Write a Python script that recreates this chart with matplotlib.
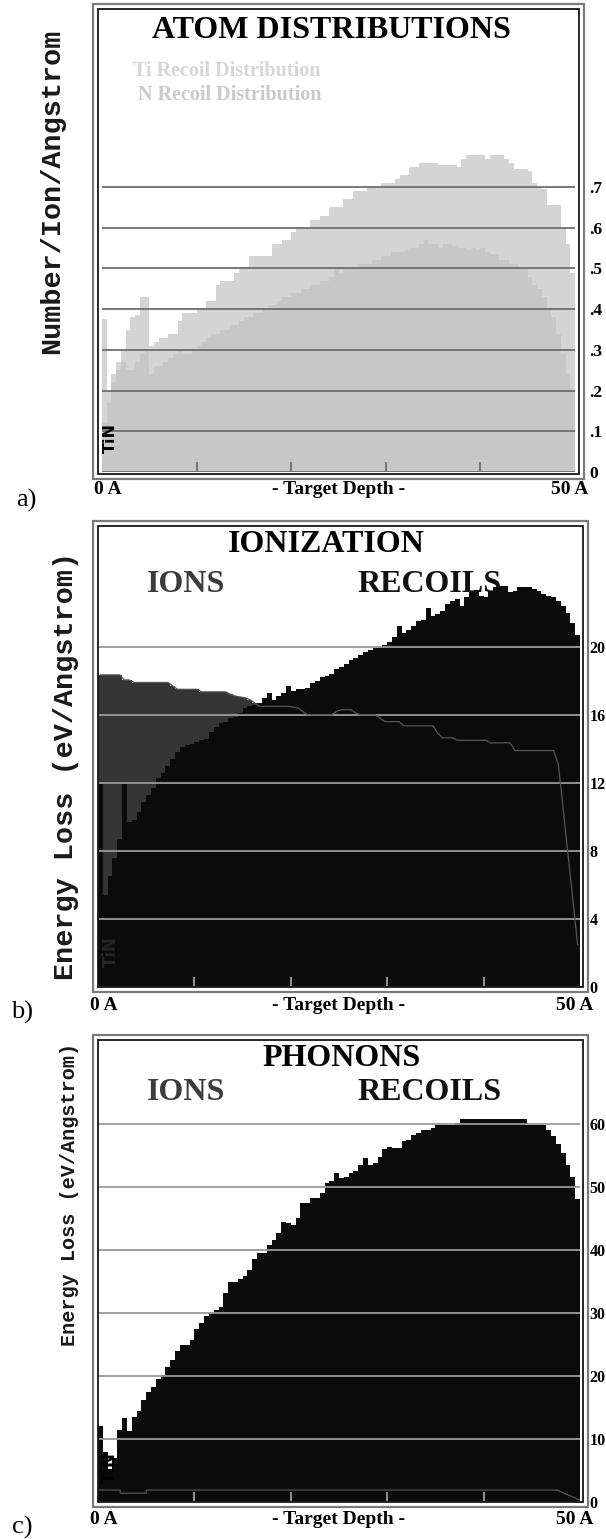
import numpy as np
import matplotlib
matplotlib.use("Agg")
import matplotlib.pyplot as plt
from matplotlib.patches import Rectangle

W, H = 606, 1539

# 100 depth bins of 0.5 A over the 50 A target
depth_edges = np.linspace(0, 50, 101)
depth_centers = (depth_edges[:-1] + depth_edges[1:]) / 2

# a) atom distributions (atoms/ion/A)
ti_recoil = [
    0.375, 0.20, 0.24, 0.27, 0.30, 0.35, 0.38, 0.385, 0.43, 0.43,
    0.31, 0.32, 0.33, 0.33, 0.34, 0.34, 0.37, 0.39, 0.39, 0.39,
    0.40, 0.40, 0.42, 0.42, 0.46, 0.47, 0.47, 0.47, 0.49, 0.50,
    0.50, 0.53, 0.53, 0.53, 0.53, 0.53, 0.56, 0.56, 0.57, 0.57,
    0.59, 0.60, 0.60, 0.60, 0.62, 0.62, 0.63, 0.63, 0.65, 0.65,
    0.65, 0.67, 0.67, 0.69, 0.69, 0.69, 0.70, 0.70, 0.70, 0.71,
    0.71, 0.71, 0.72, 0.73, 0.73, 0.75, 0.75, 0.76, 0.76, 0.76,
    0.76, 0.755, 0.755, 0.755, 0.755, 0.75, 0.77, 0.78, 0.78, 0.78,
    0.78, 0.77, 0.78, 0.78, 0.78, 0.77, 0.76, 0.745, 0.745, 0.745,
    0.74, 0.71, 0.70, 0.695, 0.655, 0.655, 0.655, 0.60, 0.56, 0.49,
]
n_recoil = [
    0.12, 0.17, 0.22, 0.25, 0.27, 0.25, 0.25, 0.27, 0.29, 0.30,
    0.24, 0.26, 0.26, 0.27, 0.28, 0.29, 0.30, 0.29, 0.29, 0.30,
    0.31, 0.32, 0.33, 0.34, 0.34, 0.35, 0.35, 0.36, 0.36, 0.37,
    0.38, 0.38, 0.39, 0.39, 0.40, 0.41, 0.41, 0.42, 0.43, 0.43,
    0.44, 0.44, 0.45, 0.45, 0.46, 0.46, 0.47, 0.47, 0.48, 0.50,
    0.49, 0.50, 0.50, 0.50, 0.51, 0.51, 0.51, 0.52, 0.52, 0.53,
    0.53, 0.54, 0.54, 0.54, 0.545, 0.55, 0.55, 0.56, 0.57, 0.56,
    0.56, 0.55, 0.56, 0.56, 0.555, 0.55, 0.55, 0.545, 0.55, 0.545,
    0.55, 0.54, 0.535, 0.535, 0.52, 0.52, 0.51, 0.51, 0.50, 0.50,
    0.48, 0.46, 0.45, 0.43, 0.40, 0.38, 0.34, 0.29, 0.24, 0.20,
]

# b) ionization energy loss (eV/A)
ion_ionization = [
    18.35, 18.35, 18.35, 18.35, 18.35, 18.05, 18.05, 17.9, 17.9, 17.9,
    17.9, 17.9, 17.9, 17.9, 17.9, 17.7, 17.5, 17.5, 17.5, 17.5,
    17.5, 17.35, 17.35, 17.35, 17.35, 17.35, 17.35, 17.2, 17.1, 17.05,
    17.0, 16.9, 16.7, 16.5, 16.5, 16.5, 16.5, 16.5, 16.5, 16.5,
    16.45, 16.4, 16.2, 16.0, 16.0, 16.0, 16.0, 16.0, 16.0, 16.2,
    16.3, 16.3, 16.3, 16.1, 16.0, 16.0, 16.0, 16.0, 15.8, 15.6,
    15.6, 15.6, 15.6, 15.35, 15.35, 15.35, 15.35, 15.35, 15.35, 15.35,
    14.9, 14.65, 14.65, 14.65, 14.5, 14.5, 14.5, 14.5, 14.5, 14.5,
    14.5, 14.35, 14.35, 14.35, 14.35, 14.35, 13.9, 13.9, 13.9, 13.9,
    13.9, 13.9, 13.9, 13.9, 13.9, 13.1, 10.5, 7.8, 5.2, 2.5,
]
recoil_ionization = [
    12.0, 5.4, 6.5, 7.6, 8.7, 12.0, 9.7, 9.8, 10.3, 10.9,
    11.3, 11.7, 12.3, 12.6, 13.0, 13.4, 13.8, 14.1, 14.2, 14.3,
    14.4, 14.5, 14.6, 15.0, 15.3, 15.5, 15.6, 15.8, 15.9, 16.1,
    16.4, 16.5, 16.6, 16.7, 17.0, 17.3, 16.9, 17.1, 17.3, 17.7,
    17.4, 17.5, 17.5, 17.6, 17.9, 18.0, 18.2, 18.3, 18.4, 18.7,
    18.8, 19.0, 19.2, 19.35, 19.5, 19.7, 19.8, 19.9, 20.0, 20.1,
    20.3, 20.6, 21.2, 20.8, 21.0, 21.2, 21.5, 21.6, 22.3, 21.8,
    21.9, 22.1, 22.5, 22.7, 22.8, 22.4, 22.9, 23.2, 23.35, 23.0,
    22.9, 23.3, 23.5, 23.6, 23.6, 23.2, 23.3, 23.5, 23.5, 23.5,
    23.4, 23.3, 23.1, 23.0, 22.9, 22.7, 22.4, 22.0, 21.4, 20.7,
]

# c) phonon energy loss (eV/A)
recoil_phonons = [
    12.0, 8.0, 5.2, 7.0, 11.5, 13.3, 11.2, 13.5, 14.5, 16.2,
    17.5, 18.3, 19.5, 20.1, 21.4, 22.5, 24.0, 24.9, 24.9, 25.7,
    27.5, 28.4, 29.5, 30.0, 30.5, 31.0, 33.2, 34.9, 34.9, 35.4,
    35.8, 36.8, 38.5, 39.5, 39.5, 40.8, 41.5, 42.7, 44.4, 44.3,
    44.0, 45.0, 47.5, 47.5, 48.2, 48.2, 49.0, 50.6, 51.0, 52.2,
    51.4, 51.6, 52.2, 52.5, 53.5, 54.6, 53.5, 53.8, 54.8, 56.0,
    56.3, 56.2, 56.2, 57.2, 57.5, 58.3, 58.5, 59.0, 59.0, 59.3,
    59.8, 59.8, 59.8, 59.8, 60.1, 60.8, 60.8, 60.8, 60.8, 60.8,
    60.8, 60.8, 60.8, 60.8, 60.8, 60.8, 60.8, 60.8, 60.8, 59.8,
    59.8, 59.8, 59.8, 59.0, 58.0, 56.8, 55.4, 53.5, 51.5, 48.0,
]
ion_phonon_depth = [0, 2.3, 2.3, 5.0, 5.0, 47.6, 50]
ion_phonon_value = [1.9, 1.9, 1.4, 1.4, 1.9, 1.9, 0.3]

depth_ticks = [10, 20, 30, 40]
atom_ticks = [0, 0.1, 0.2, 0.3, 0.4, 0.5, 0.6, 0.7]
atom_tick_labels = ["0", ".1", ".2", ".3", ".4", ".5", ".6", ".7"]
ioniz_ticks = [0, 4, 8, 12, 16, 20]
phonon_ticks = [0, 10, 20, 30, 40, 50, 60]

SERIF = "Liberation Serif"
MONO = "Liberation Mono"

fig = plt.figure(figsize=(W / 100, H / 100), dpi=100)
fig.patch.set_facecolor("white")


def fx(x):
    return x / W


def fy(y):
    return 1 - y / H


def panel_axes(left, top, right, bottom):
    return fig.add_axes([fx(left), fy(bottom), (right - left) / W, (bottom - top) / H])


def frame(left, top, right, bottom):
    # double border, gray outside, dark inside
    for inset, color, lw in [(0, "#7a7a7a", 1.6), (5, "#151515", 1.3)]:
        rect = Rectangle(
            (fx(left + inset), fy(bottom - inset)),
            (right - left - 2 * inset) / W,
            (bottom - top - 2 * inset) / H,
            transform=fig.transFigure, fill=False, edgecolor=color, linewidth=lw,
        )
        fig.add_artist(rect)


def style_axes(ax, ymax, ticks, labels, grid_color, tick_color, pad, size):
    ax.set_xlim(0, 50)
    ax.set_ylim(0, ymax)
    for s in ax.spines.values():
        s.set_visible(False)
    ax.set_xticks(depth_ticks)
    ax.tick_params(axis="x", direction="in", length=7, width=1.2,
                   color=tick_color, labelbottom=False)
    ax.yaxis.tick_right()
    ax.set_yticks(ticks, labels)
    ax.tick_params(axis="y", length=0, pad=pad, labelsize=size, labelright=True)
    for t in ax.get_yticklabels():
        t.set_fontfamily(SERIF)
        t.set_fontweight("bold")
    ax.grid(axis="y", color=grid_color, linewidth=1.3)
    ax.set_axisbelow(False)


def depth_labels(y, left, right):
    kw = dict(fontfamily=SERIF, fontweight="bold", fontsize=14, va="center")
    fig.text(fx(left + 6), fy(y), "0 A", ha="center", **kw)
    fig.text(fx((left + right) / 2), fy(y), "- Target Depth -", ha="center", **kw)
    fig.text(fx(right - 5), fy(y), "50 A", ha="center", **kw)


# ---------------- a) atom distributions ----------------
frame(93, 4, 584, 479)
ax_a = panel_axes(102, 10, 575, 472)
ax_a.stairs(ti_recoil, depth_edges, fill=True, color="#d4d4d4", baseline=0)
ax_a.stairs(n_recoil, depth_edges, fill=True, color="#c7c7c7", baseline=0)
style_axes(ax_a, 1.135, atom_ticks, atom_tick_labels, "#6e6e6e", "#666666", 10, 12.5)

fig.text(fx(331), fy(31), "ATOM DISTRIBUTIONS", ha="center", va="center",
         fontfamily=SERIF, fontweight="bold", fontsize=23)
fig.text(fx(133), fy(71), "Ti Recoil Distribution", ha="left", va="center",
         fontfamily=SERIF, fontweight="bold", fontsize=14.5, color="#d6d6d6")
fig.text(fx(138), fy(95), "N Recoil Distribution", ha="left", va="center",
         fontfamily=SERIF, fontweight="bold", fontsize=14.5, color="#cacaca")
fig.text(fx(52), fy(191), "Number/Ion/Angstrom", rotation=90, ha="center",
         va="center", fontfamily=MONO, fontweight="bold", fontsize=20.5, color="#1a1a1a")
fig.text(fx(110), fy(438), "TiN", rotation=90, ha="center", va="center",
         fontfamily="DejaVu Sans", fontweight="bold", fontsize=11.5, color="black")
depth_labels(490, 102, 575)
fig.text(fx(26), fy(500), "a)", ha="center", va="center", fontfamily=SERIF, fontsize=19)

# ---------------- b) ionization ----------------
frame(93, 521, 588, 992)
ax_b = panel_axes(98, 526, 580, 987)
ax_b.stairs(ion_ionization, depth_edges, fill=True, color="#353535", baseline=0)
ax_b.stairs(recoil_ionization, depth_edges, fill=True, color="#0b0b0b", baseline=0)
ax_b.plot(depth_centers, ion_ionization, color="#555555", linewidth=0.9, zorder=3)
style_axes(ax_b, 27.1, ioniz_ticks, [str(v) for v in ioniz_ticks],
           "#9a9a9a", "#aaaaaa", 7, 11.5)

fig.text(fx(326), fy(545), "IONIZATION", ha="center", va="center",
         fontfamily=SERIF, fontweight="bold", fontsize=23)
fig.text(fx(147), fy(584), "IONS", ha="left", va="center",
         fontfamily=SERIF, fontweight="bold", fontsize=23, color="#3c3c3c")
fig.text(fx(357), fy(584), "RECOILS", ha="left", va="center",
         fontfamily=SERIF, fontweight="bold", fontsize=23, color="#111111")
fig.text(fx(66), fy(766), "Energy Loss (eV/Angstrom)", rotation=90, ha="center",
         va="center", fontfamily=MONO, fontweight="bold", fontsize=20.5, color="#1a1a1a")
fig.text(fx(111), fy(952), "TiN", rotation=90, ha="center", va="center",
         fontfamily="DejaVu Sans", fontweight="bold", fontsize=12, color="#262626")
depth_labels(1005, 98, 580)
fig.text(fx(22), fy(1012), "b)", ha="center", va="center", fontfamily=SERIF, fontsize=19)

# ---------------- c) phonons ----------------
frame(93, 1035, 588, 1507)
ax_c = panel_axes(98, 1040, 580, 1502)
ax_c.stairs(recoil_phonons, depth_edges, fill=True, color="#0b0b0b", baseline=0)
ax_c.plot(ion_phonon_depth, ion_phonon_value, color="#555555", linewidth=0.9, zorder=3)
style_axes(ax_c, 73.3, phonon_ticks, [str(v) for v in phonon_ticks],
           "#9a9a9a", "#aaaaaa", 7, 11.5)

fig.text(fx(342), fy(1059), "PHONONS", ha="center", va="center",
         fontfamily=SERIF, fontweight="bold", fontsize=23)
fig.text(fx(147), fy(1093), "IONS", ha="left", va="center",
         fontfamily=SERIF, fontweight="bold", fontsize=23, color="#3c3c3c")
fig.text(fx(357), fy(1093), "RECOILS", ha="left", va="center",
         fontfamily=SERIF, fontweight="bold", fontsize=23, color="#111111")
fig.text(fx(70), fy(1194), "Energy Loss (eV/Angstrom)", rotation=90, ha="center",
         va="center", fontfamily=MONO, fontweight="bold", fontsize=14.5, color="#1a1a1a")
fig.text(fx(110), fy(1468), "TiN", rotation=90, ha="center", va="center",
         fontfamily="DejaVu Sans", fontweight="bold", fontsize=12, color="black")
depth_labels(1520, 98, 580)
fig.text(fx(22), fy(1527), "c)", ha="center", va="center", fontfamily=SERIF, fontsize=19)

fig.savefig("out.png", dpi=100, facecolor="white")
